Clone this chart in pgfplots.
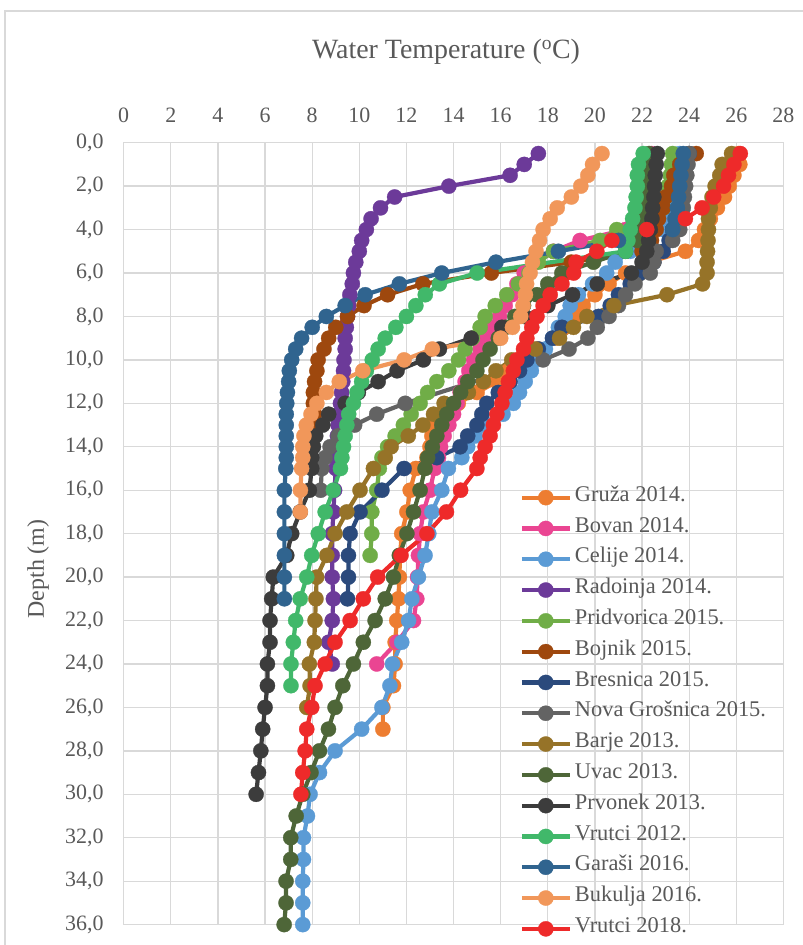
\documentclass[border=0pt]{standalone}
\usepackage{fontspec}
\setmainfont{Liberation Serif}
\usepackage{pgfplots}
\pgfplotsset{compat=1.18}

\definecolor{frame}{HTML}{D9D9D9}
\definecolor{gridgray}{HTML}{D9D9D9}
\definecolor{labelgray}{HTML}{595959}
\definecolor{cGruza}{HTML}{ED7D31}
\definecolor{cBovan}{HTML}{EA4592}
\definecolor{cCelije}{HTML}{5B9BD5}
\definecolor{cRadoinja}{HTML}{6C3A99}
\definecolor{cPridvorica}{HTML}{70AD47}
\definecolor{cBojnik}{HTML}{9E480E}
\definecolor{cBresnica}{HTML}{2B4A7C}
\definecolor{cNova}{HTML}{636363}
\definecolor{cBarje}{HTML}{967328}
\definecolor{cUvac}{HTML}{4E6638}
\definecolor{cPrvonek}{HTML}{3C3C3C}
\definecolor{cVrutciA}{HTML}{41B86A}
\definecolor{cGarasi}{HTML}{30648F}
\definecolor{cBukulja}{HTML}{F1975A}
\definecolor{cVrutciB}{HTML}{EE2A2A}

\begin{document}
\begin{tikzpicture}
\useasboundingbox (0,0) rectangle (803bp,945bp);
\draw[frame, line width=1.2bp] (5bp,0bp) -- (5bp,934bp) -- (803bp,934bp);
\node[text=labelgray, font=\fontsize{28}{33}\selectfont] at (446bp,893bp) {Water Temperature (\textsuperscript{o}C)};
\node[text=labelgray, font=\fontsize{24}{28}\selectfont, rotate=90] at (38bp,376bp) {Depth (m)};

\begin{axis}[
  at={(123.7bp,20.4bp)}, anchor=south west,
  scale only axis, width=659.7bp, height=781.9bp,
  xmin=0, xmax=28, ymin=0, ymax=36, y dir=reverse,
  xtick={0,2,...,28}, ytick={0,2,...,36},
  xticklabel pos=upper,
  grid=major,
  major grid style={draw=gridgray, line width=1.3bp},
  axis line style={draw=gridgray, line width=1.3bp},
  tick style={draw=none},
  /pgf/number format/assume math mode=true,
  ticklabel style={font=\fontsize{22}{26}\selectfont, text=labelgray},
  xticklabel style={anchor=base, inner sep=0pt, yshift=20bp},
  yticklabel style={anchor=east, inner sep=0pt, xshift=-20bp,
    /pgf/number format/.cd, fixed, fixed zerofill, precision=1, use comma},
  clip=false,
  every axis plot/.append style={line width=4.2bp, mark=*, mark size=7.6bp, mark options={solid, line width=0.3bp}},
  legend cell align=left,
  legend image code/.code={\draw[mark repeat=2, mark phase=2, #1] plot coordinates {(0bp,0bp) (24bp,0bp) (48bp,0bp)};},
  legend style={at={(0.6,0.566)}, anchor=north west, draw=none, fill=none,
    font=\fontsize{22.5}{27}\selectfont, text=labelgray, inner sep=0pt,
    row sep=0pt, column sep=3bp,
    nodes={inner sep=0pt, text height=19bp, text depth=11.8bp}},
]
% Gruza 2014
\addplot[cGruza] coordinates {(26.1,0.5)(26.15,1.0)(25.9,1.5)(25.7,2.0)(25.5,2.5)(25.2,3.0)(24.9,3.5)(24.65,4.0)(24.4,4.5)(23.84,5.0)(22.3,5.5)(21.3,6.0)(20.6,6.5)(20.0,7.0)(19.5,7.5)(19.1,8.0)(18.7,8.5)(18.3,9.0)(17.6,9.5)(16.75,10.0)(16.33,10.5)(15.84,11.0)(15.0,11.5)(14.2,12.0)(13.6,12.5)(13.15,13.0)(13.08,13.5)(13.0,14.0)(12.87,14.5)(12.4,15.0)(12.16,16.0)(12.02,17.0)(11.8,18.0)(11.73,19.0)(11.7,20.0)(11.66,21.0)(11.59,22.0)(11.52,23.0)(11.52,24.0)(11.45,25.0)(11.0,26.0)(11.0,27.0)};
\addlegendentry{Gruža 2014.}
% Bovan 2014
\addplot[cBovan] coordinates {(22.4,0.5)(22.3,1.0)(22.2,1.5)(22.1,2.0)(22.0,2.5)(21.9,3.0)(21.7,3.5)(21.3,4.0)(19.37,4.5)(18.24,5.0)(17.5,5.5)(17.0,6.0)(16.69,6.5)(16.47,7.0)(16.19,7.5)(15.95,8.0)(15.69,8.5)(15.4,9.0)(15.13,9.5)(14.85,10.0)(14.65,10.5)(14.49,11.0)(14.28,11.5)(14.15,12.0)(14.0,12.5)(13.8,13.0)(13.6,13.5)(13.45,14.0)(13.36,14.5)(13.2,15.0)(13.0,16.0)(12.72,17.0)(12.58,18.0)(12.51,19.0)(12.47,20.0)(12.44,21.0)(12.3,22.0)(11.6,23.0)(10.74,24.0)};
\addlegendentry{Bovan 2014.}
% Celije 2014
\addplot[cCelije] coordinates {(23.6,0.5)(23.55,1.0)(23.5,1.5)(23.45,2.0)(23.4,2.5)(23.1,3.0)(23.0,3.5)(22.9,4.0)(22.3,4.5)(21.5,5.0)(20.86,5.5)(20.5,6.0)(19.9,6.5)(19.3,7.0)(18.95,7.5)(18.74,8.0)(18.45,8.5)(18.2,9.0)(17.9,9.5)(17.5,10.0)(17.3,10.5)(17.04,11.0)(16.8,11.5)(16.54,12.0)(16.1,12.5)(15.5,13.0)(14.92,13.5)(14.6,14.0)(14.35,14.5)(13.78,15.0)(13.5,16.0)(13.08,17.0)(12.95,18.0)(12.79,19.0)(12.51,20.0)(12.23,21.0)(12.09,22.0)(11.8,23.0)(11.41,24.0)(11.3,25.0)(10.96,26.0)(10.1,27.0)(8.97,28.0)(8.31,29.0)(7.91,30.0)(7.8,31.0)(7.63,32.0)(7.63,33.0)(7.6,34.0)(7.6,35.0)(7.6,36.0)};
\addlegendentry{Celije 2014.}
% Radoinja 2014
\addplot[cRadoinja] coordinates {(17.6,0.5)(17.0,1.0)(16.4,1.5)(13.8,2.0)(11.5,2.5)(10.9,3.0)(10.5,3.5)(10.3,4.0)(10.1,4.5)(10.0,5.0)(9.85,5.5)(9.75,6.0)(9.7,6.5)(9.6,7.0)(9.55,7.5)(9.5,8.0)(9.45,8.5)(9.4,9.0)(9.4,9.5)(9.35,10.0)(9.33,10.5)(9.3,11.0)(9.25,11.5)(9.2,12.0)(9.15,12.5)(9.1,13.0)(9.07,13.5)(9.05,14.0)(9.02,14.5)(9.0,15.0)(8.95,16.0)(8.9,17.0)(8.85,18.0)(8.85,19.0)(8.85,20.0)(8.9,21.0)(8.85,22.0)(8.7,23.0)(8.85,24.0)};
\addlegendentry{Radoinja 2014.}
% Pridvorica 2015
\addplot[cPridvorica] coordinates {(23.3,0.5)(23.25,1.0)(23.2,1.5)(23.1,2.0)(23.0,2.5)(22.9,3.0)(22.5,3.5)(20.93,4.0)(20.22,4.5)(18.24,5.0)(17.6,5.5)(17.2,6.0)(16.75,6.5)(16.26,7.0)(15.77,7.5)(15.34,8.0)(15.13,8.5)(14.8,9.0)(14.49,9.5)(14.21,10.0)(13.8,10.5)(13.29,11.0)(12.9,11.5)(12.58,12.0)(12.2,12.5)(11.87,13.0)(11.52,13.5)(11.2,14.0)(10.96,14.5)(10.85,15.0)(10.74,16.0)(10.53,17.0)(10.53,18.0)(10.46,19.0)};
\addlegendentry{Pridvorica 2015.}
% Bojnik 2015
\addplot[cBojnik] coordinates {(24.3,0.5)(23.6,1.0)(23.35,1.5)(23.25,2.0)(23.0,2.5)(22.9,3.0)(22.7,3.5)(22.6,4.0)(22.4,4.5)(22.0,5.0)(19.0,5.5)(15.6,6.0)(12.7,6.5)(11.2,7.0)(10.2,7.5)(9.5,8.0)(9.0,8.5)(8.7,9.0)(8.5,9.5)(8.25,10.0)(8.2,10.5)(8.1,11.0)(8.05,11.5)(8.05,12.0)(8.1,12.5)(8.1,13.0)};
\addlegendentry{Bojnik 2015.}
% Bresnica 2015
\addplot[cBresnica] coordinates {(24.0,0.5)(23.9,1.0)(23.85,1.5)(23.8,2.0)(23.7,2.5)(23.6,3.0)(23.5,3.5)(23.3,4.0)(23.15,4.5)(22.9,5.0)(22.5,5.5)(21.9,6.0)(21.5,6.5)(21.0,7.0)(20.65,7.5)(20.15,8.0)(18.6,8.5)(18.2,9.0)(17.6,9.5)(17.11,10.0)(16.8,10.5)(16.4,11.0)(15.9,11.5)(15.41,12.0)(15.2,12.5)(14.99,13.0)(14.6,13.5)(14.28,14.0)(13.29,14.5)(11.9,15.0)(10.96,16.0)(10.03,17.0)(9.61,18.0)(9.54,19.0)(9.54,20.0)(9.5,21.0)};
\addlegendentry{Bresnica 2015.}
% Nova Grosnica 2015
\addplot[cNova] coordinates {(24.0,0.5)(23.95,1.0)(23.9,1.5)(23.85,2.0)(23.8,2.5)(23.75,3.0)(23.7,3.5)(23.6,4.0)(23.3,4.5)(22.6,5.0)(22.5,5.5)(22.35,6.0)(21.7,6.5)(21.3,7.0)(21.0,7.5)(20.6,8.0)(20.1,8.5)(19.7,9.0)(18.9,9.5)(17.8,10.0)(11.95,12.0)(10.74,12.5)(9.8,13.0)(9.1,13.5)(8.76,14.0)(8.55,14.5)(8.41,15.0)(8.36,16.0)};
\addlegendentry{Nova Grošnica 2015.}
% Barje 2013
\addplot[cBarje] coordinates {(25.8,0.5)(25.4,1.0)(25.3,1.5)(25.1,2.0)(24.97,2.5)(24.9,3.0)(24.82,3.5)(24.82,4.0)(24.8,4.5)(24.78,5.0)(24.76,5.5)(24.76,6.0)(24.57,6.5)(23.06,7.0)(20.8,7.5)(19.66,8.0)(19.09,8.5)(18.5,9.0)(17.47,9.5)(16.47,10.0)(15.8,10.5)(15.27,11.0)(14.63,11.5)(13.6,12.0)(13.15,12.5)(12.7,13.0)(12.08,13.5)(11.35,14.0)(11.1,14.5)(10.6,15.0)(10.03,16.0)(9.47,17.0)(8.97,18.0)(8.62,19.0)(8.19,20.0)(8.16,21.0)(8.12,22.0)(8.09,23.0)(7.88,24.0)(7.91,25.0)(7.77,26.0)};
\addlegendentry{Barje 2013.}
% Uvac 2013
\addplot[cUvac] coordinates {(22.3,0.5)(22.25,1.0)(22.2,1.5)(22.2,2.0)(22.15,2.5)(22.1,3.0)(22.0,3.5)(21.9,4.0)(21.8,4.5)(21.3,5.0)(19.94,5.5)(18.6,6.0)(18.0,6.5)(17.54,7.0)(16.97,7.5)(16.6,8.0)(16.2,8.5)(15.9,9.0)(15.55,9.5)(15.25,10.0)(14.99,10.5)(14.6,11.0)(14.3,11.5)(14.0,12.0)(13.71,12.5)(13.5,13.0)(13.29,13.5)(13.1,14.0)(12.9,14.5)(12.79,15.0)(12.58,16.0)(12.3,17.0)(12.02,18.0)(11.7,19.0)(11.45,20.0)(11.1,21.0)(10.67,22.0)(10.17,23.0)(9.75,24.0)(9.3,25.0)(8.97,26.0)(8.69,27.0)(8.31,28.0)(7.95,29.0)(7.6,30.0)(7.32,31.0)(7.09,32.0)(7.09,33.0)(6.89,34.0)(6.89,35.0)(6.81,36.0)};
\addlegendentry{Uvac 2013.}
% Prvonek 2013
\addplot[cPrvonek] coordinates {(22.65,0.5)(22.6,1.0)(22.56,1.5)(22.53,2.0)(22.5,2.5)(22.45,3.0)(22.42,3.5)(22.35,4.0)(22.28,4.5)(22.2,5.0)(22.0,5.5)(21.55,6.0)(20.1,6.5)(19.05,7.0)(18.0,7.5)(17.0,8.0)(16.05,8.5)(14.75,9.0)(13.4,9.5)(12.72,10.0)(11.6,10.5)(10.8,11.0)(9.96,11.5)(9.4,12.0)(8.7,12.5)(8.45,13.0)(8.15,13.5)(8.05,14.0)(7.98,14.5)(7.98,15.0)(7.88,16.0)(7.49,17.0)(7.13,18.0)(6.92,19.0)(6.35,20.0)(6.28,21.0)(6.21,22.0)(6.21,23.0)(6.1,24.0)(6.1,25.0)(6.0,26.0)(5.9,27.0)(5.82,28.0)(5.72,29.0)(5.62,30.0)};
\addlegendentry{Prvonek 2013.}
% Vrutci 2012
\addplot[cVrutciA] coordinates {(22.05,0.5)(21.85,1.0)(21.8,1.5)(21.8,2.0)(21.75,2.5)(21.7,3.0)(21.6,3.5)(21.5,4.0)(21.4,4.5)(21.3,5.0)(15.0,6.0)(13.4,6.5)(12.8,7.0)(12.4,7.5)(12.0,8.0)(11.55,8.5)(11.1,9.0)(10.8,9.5)(10.55,10.0)(10.3,10.5)(10.1,11.0)(9.9,11.5)(9.75,12.0)(9.55,12.5)(9.47,13.0)(9.4,13.5)(9.33,14.0)(9.26,14.5)(9.2,15.0)(8.9,16.0)(8.55,17.0)(8.26,18.0)(7.98,19.0)(7.77,20.0)(7.49,21.0)(7.3,22.0)(7.2,23.0)(7.1,24.0)(7.1,25.0)};
\addlegendentry{Vrutci 2012.}
% Garasi 2016
\addplot[cGarasi] coordinates {(23.75,0.5)(23.7,1.0)(23.65,1.5)(23.6,2.0)(23.55,2.5)(23.5,3.0)(23.4,3.5)(23.3,4.0)(21.0,4.5)(18.45,5.0)(15.8,5.5)(13.5,6.0)(11.7,6.5)(10.25,7.0)(9.4,7.5)(8.6,8.0)(8.0,8.5)(7.55,9.0)(7.3,9.5)(7.13,10.0)(7.03,10.5)(7.0,11.0)(6.95,11.5)(6.92,12.0)(6.9,12.5)(6.9,13.0)(6.9,13.5)(6.9,14.0)(6.9,14.5)(6.88,15.0)(6.82,16.0)(6.82,17.0)(6.82,18.0)(6.82,19.0)(6.82,20.0)(6.82,21.0)};
\addlegendentry{Garaši 2016.}
% Bukulja 2016
\addplot[cBukulja] coordinates {(20.3,0.5)(19.9,1.0)(19.7,1.5)(19.4,2.0)(19.0,2.5)(18.4,3.0)(18.1,3.5)(17.8,4.0)(17.65,4.5)(17.5,5.0)(17.35,5.5)(17.25,6.0)(17.1,6.5)(17.05,7.0)(16.95,7.5)(16.85,8.0)(16.5,8.5)(16.0,9.0)(13.1,9.5)(11.9,10.0)(10.15,10.5)(9.15,11.0)(8.6,11.5)(8.2,12.0)(7.95,12.5)(7.75,13.0)(7.65,13.5)(7.6,14.0)(7.6,14.5)(7.55,15.0)(7.5,16.0)(7.5,17.0)};
\addlegendentry{Bukulja 2016.}
% Vrutci 2018
\addplot[cVrutciB] coordinates {(26.17,0.5)(25.9,1.0)(25.67,1.5)(25.46,2.0)(25.04,2.5)(24.55,3.0)(23.84,3.5)(22.2,4.0)(20.72,4.5)(20.08,5.0)(19.2,5.5)(19.1,6.0)(18.6,6.5)(18.1,7.0)(17.8,7.5)(17.54,8.0)(17.32,8.5)(17.11,9.0)(16.97,9.5)(16.69,10.0)(16.54,10.5)(16.33,11.0)(16.19,11.5)(16.05,12.0)(15.84,12.5)(15.69,13.0)(15.55,13.5)(15.34,14.0)(15.13,14.5)(14.99,15.0)(14.3,16.0)(13.7,17.0)(12.87,18.0)(11.77,19.0)(10.78,20.0)(10.17,21.0)(9.61,22.0)(8.97,23.0)(8.55,24.0)(8.12,25.0)(7.98,26.0)(7.77,27.0)(7.7,28.0)(7.6,29.0)(7.52,30.0)};
\addlegendentry{Vrutci 2018.}
\end{axis}
\end{tikzpicture}
\end{document}
